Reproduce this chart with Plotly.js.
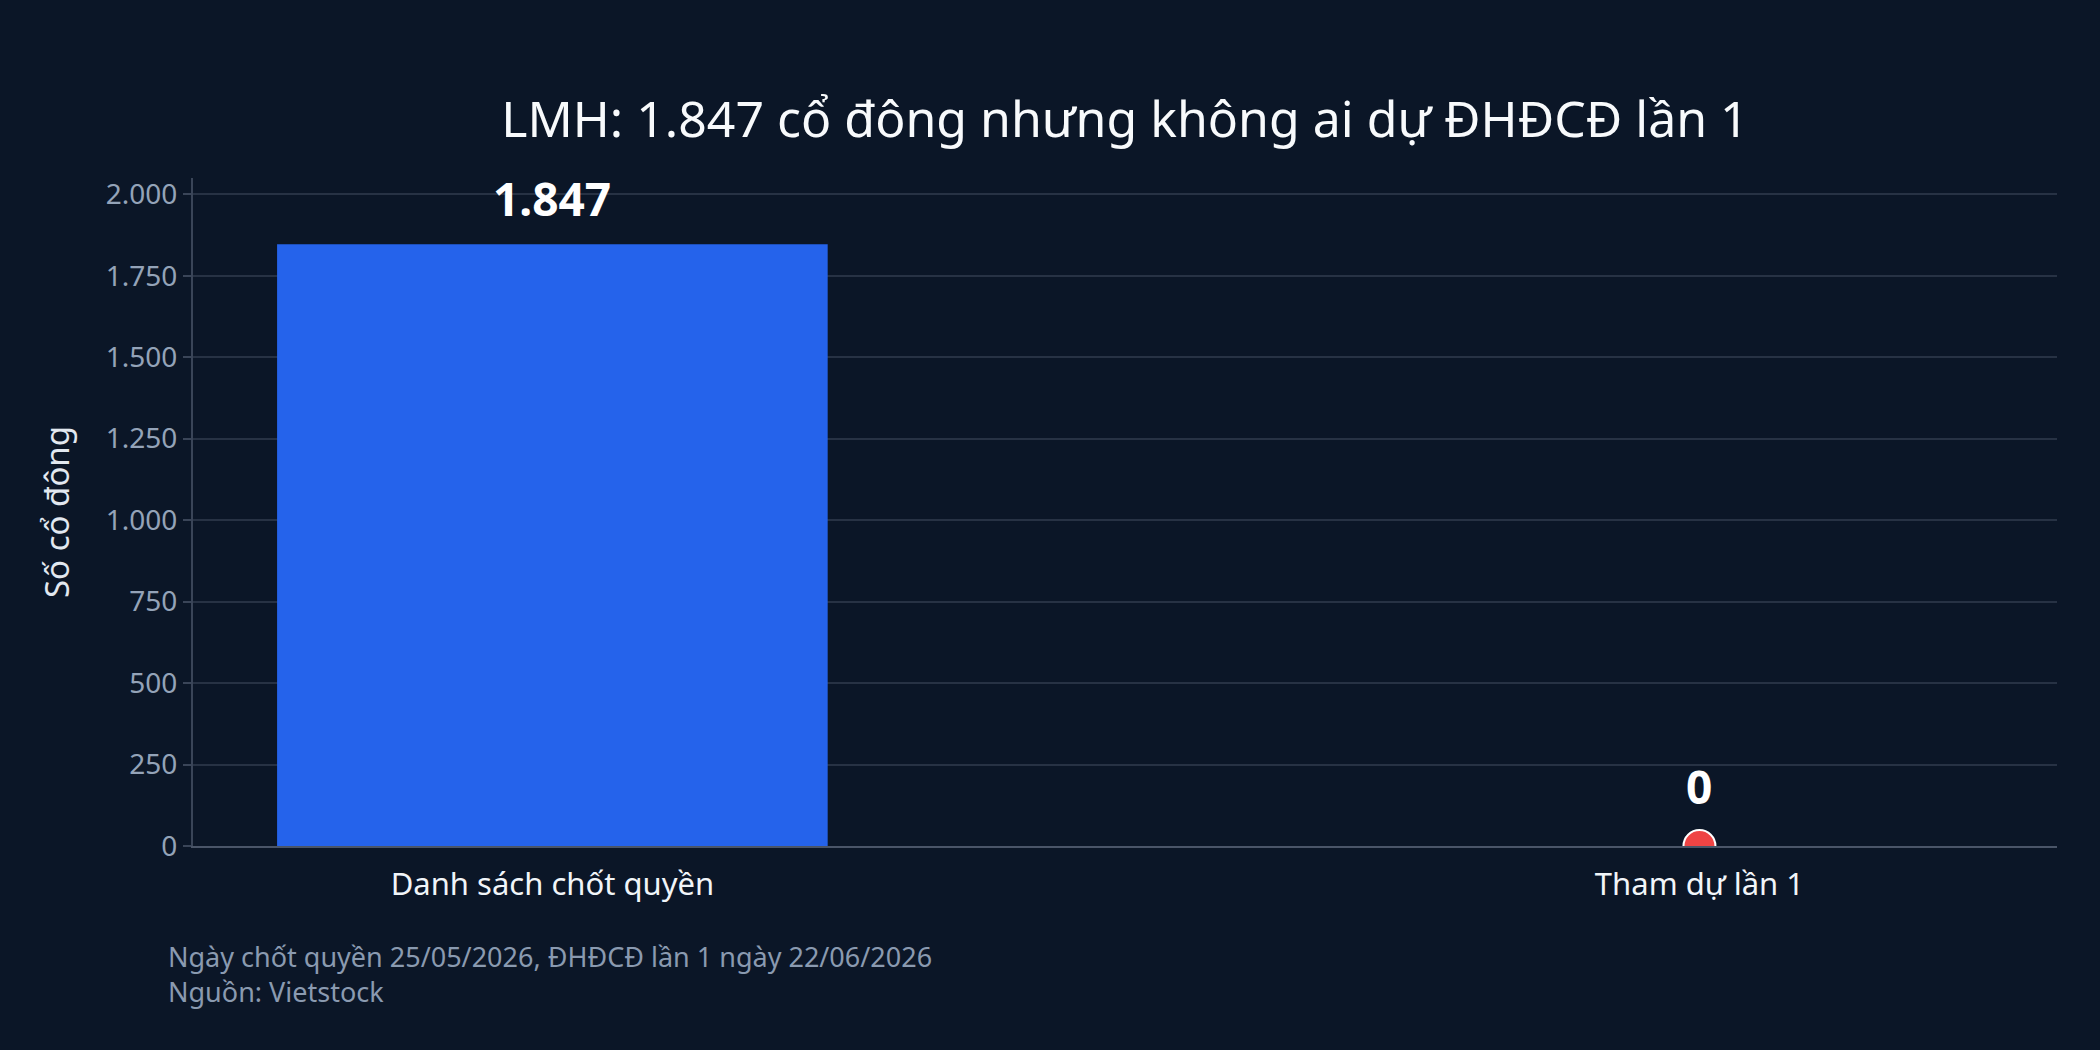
<!DOCTYPE html>
<html>
<head>
<meta charset="utf-8">
<script src="https://cdn.plot.ly/plotly-3.0.1.min.js"></script>
<style>
  html, body { margin: 0; padding: 0; background: #0b1627; }
  #chart { width: 2100px; height: 1050px; }
</style>
</head>
<body>
<div id="chart"></div>
<script>
// ---- data ----
const categories = ['Danh sách chốt quyền', 'Tham dự lần 1'];
const shareholders = [1847, 0];
const valueLabels = ['1.847', '0'];
const yTickValues = [0, 250, 500, 750, 1000, 1250, 1500, 1750, 2000];
const chartTitle = 'LMH: 1.847 cổ đông nhưng không ai dự ĐHĐCĐ lần 1';
const yAxisTitle = 'Số cổ đông';
const footnoteLines = ['Ngày chốt quyền 25/05/2026, ĐHĐCĐ lần 1 ngày 22/06/2026', 'Nguồn: Vietstock'];

const FONT = 'Noto Sans, Open Sans, sans-serif';
const BG = '#0b1627';
const GRID = '#273244';
const AXIS = '#3a4558';

const traces = [
  {
    type: 'bar',
    x: [categories[0]],
    y: [shareholders[0]],
    width: 0.48,
    marker: { color: '#2563eb' },
    hoverinfo: 'skip',
    showlegend: false
  },
  {
    type: 'scatter',
    mode: 'markers',
    x: [categories[1]],
    y: [shareholders[1]],
    marker: { color: '#ef4444', size: 32, line: { color: '#ffffff', width: 2 } },
    hoverinfo: 'skip',
    showlegend: false
  }
];

const yshifts = [13, 27];
const annotations = categories.map((c, i) => ({
  x: c, y: shareholders[i], xref: 'x', yref: 'y',
  text: '<b>' + valueLabels[i] + '</b>',
  showarrow: false, yanchor: 'bottom', xanchor: 'center',
  yshift: yshifts[i],
  font: { family: FONT, size: 46, color: '#ffffff' }
}));
annotations.push({
  xref: 'paper', yref: 'paper', x: -0.0145, y: -0.134,
  xanchor: 'left', yanchor: 'top', align: 'left', showarrow: false,
  text: footnoteLines.join('<br>'),
  font: { family: FONT, size: 27, color: '#8a9ab0' }
});

const layout = {
  width: 2100, height: 1050,
  paper_bgcolor: BG, plot_bgcolor: BG,
  separators: ',.',
  margin: { l: 193, r: 43, t: 178, b: 204, pad: 0 },
  font: { family: FONT, color: '#e2e8f0' },
  title: {
    text: chartTitle,
    x: 0.5, xref: 'paper', xanchor: 'center',
    y: 0.886, yref: 'container', yanchor: 'middle',
    font: { family: FONT, size: 50, color: '#f8fafc' }
  },
  xaxis: {
    type: 'category',
    range: [-0.3133, 1.3117],
    showgrid: false, zeroline: false,
    showline: true, linecolor: '#4a5568', linewidth: 2,
    ticks: '',
    ticklabelstandoff: 10,
    tickfont: { family: FONT, size: 31, color: '#f1f5f9' },
    fixedrange: true
  },
  yaxis: {
    range: [0, 2050],
    tickvals: yTickValues,
    tickformat: ',d',
    showgrid: true, gridcolor: GRID, gridwidth: 2,
    zeroline: false,
    showline: true, linecolor: AXIS, linewidth: 2,
    ticks: 'outside', ticklen: 8, tickwidth: 2, tickcolor: AXIS,
    tickfont: { family: FONT, size: 28, color: '#94a3b8' },
    title: { text: yAxisTitle, standoff: 26, font: { family: FONT, size: 33, color: '#e2e8f0' } },
    automargin: false,
    fixedrange: true
  },
  annotations: annotations,
  showlegend: false
};

Plotly.newPlot('chart', traces, layout, { displayModeBar: false, staticPlot: true });
</script>
</body>
</html>
